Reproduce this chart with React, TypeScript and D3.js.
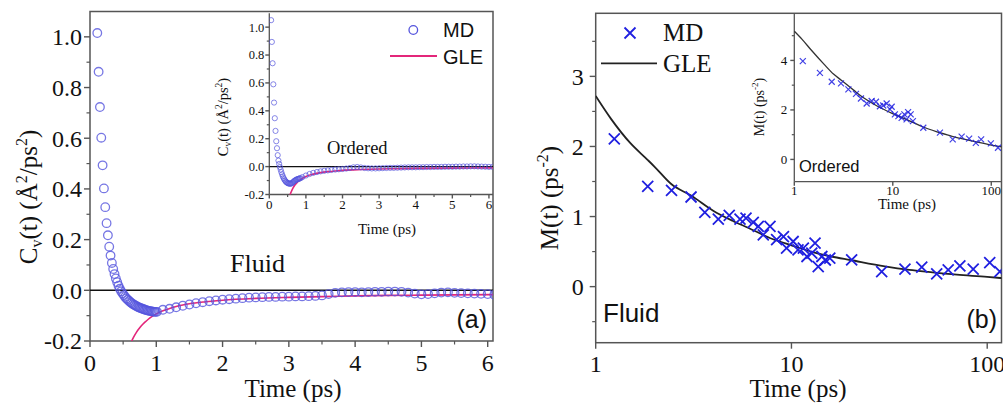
import React from 'react';
import * as d3 from 'd3';

const W = 1003;
const H = 405;
const SERIF = "'Liberation Serif','Times New Roman',serif";
const SANS = "'Liberation Sans',Arial,sans-serif";

// ---------- Panel (a) main: velocity autocorrelation, fluid ----------
const aMdTime = [
  0.11, 0.13, 0.15, 0.17, 0.19, 0.21, 0.23, 0.25, 0.27, 0.29, 0.31, 0.33, 0.35, 0.37, 0.39, 0.41,
  0.43, 0.45, 0.47, 0.49, 0.51, 0.53, 0.55, 0.57, 0.59, 0.61, 0.63, 0.65, 0.67, 0.69, 0.71, 0.73,
  0.75, 0.77, 0.79, 0.81, 0.83, 0.85, 0.87, 0.89, 0.91, 0.93, 0.95, 0.97, 0.99, 1.01,
  1.1, 1.2, 1.3, 1.4, 1.5, 1.6, 1.7, 1.8, 1.9, 2.0, 2.1, 2.2, 2.3, 2.4, 2.5, 2.6, 2.7, 2.8, 2.9,
  3.0, 3.1, 3.2, 3.3, 3.4, 3.5, 3.6, 3.7, 3.8, 3.9, 4.0, 4.1, 4.2, 4.3, 4.4, 4.5, 4.6, 4.7, 4.8,
  4.9, 5.0, 5.1, 5.2, 5.3, 5.4, 5.5, 5.6, 5.7, 5.8, 5.9, 6.0, 6.1,
];
const aMdCv = [
  1.015, 0.862, 0.723, 0.602, 0.493, 0.402, 0.328, 0.265, 0.217, 0.172, 0.137, 0.108, 0.084, 0.064,
  0.047, 0.032, 0.018, 0.006, -0.004, -0.012, -0.019, -0.026, -0.032, -0.037, -0.042, -0.047,
  -0.051, -0.055, -0.058, -0.061, -0.064, -0.067, -0.069, -0.071, -0.073, -0.075, -0.077, -0.078,
  -0.08, -0.081, -0.082, -0.083, -0.084, -0.085, -0.085, -0.085,
  -0.077, -0.073, -0.067, -0.061, -0.056, -0.051, -0.047, -0.043, -0.04, -0.037, -0.035, -0.033,
  -0.031, -0.029, -0.028, -0.027, -0.026, -0.026, -0.025, -0.025, -0.024, -0.024, -0.023, -0.022,
  -0.02, -0.015, -0.01, -0.008, -0.007, -0.007, -0.008, -0.007, -0.006, -0.006, -0.005, -0.005,
  -0.006, -0.009, -0.013, -0.016, -0.015, -0.012, -0.009, -0.008, -0.01, -0.011, -0.012, -0.013,
  -0.014, -0.015, -0.018,
];
const aGleTime = [0.6, 0.63, 0.66, 0.7, 0.75, 0.8, 0.85, 0.9, 0.95, 1.0, 1.1, 1.2, 1.3, 1.4, 1.5, 1.75, 2.0, 2.5, 3.0, 3.5, 4.0, 4.5, 5.0, 5.5, 6.1];
const aGleCv = [-0.22, -0.2, -0.184, -0.166, -0.148, -0.133, -0.121, -0.11, -0.101, -0.093, -0.081, -0.072, -0.064, -0.058, -0.053, -0.045, -0.039, -0.032, -0.028, -0.025, -0.022, -0.02, -0.019, -0.018, -0.017];

// ---------- Panel (a) inset: ordered ----------
const aInMdTime = [
  0.05, 0.07, 0.09, 0.11, 0.13, 0.15, 0.17, 0.19, 0.21, 0.23, 0.25, 0.27, 0.29, 0.31, 0.33, 0.35,
  0.37, 0.39, 0.41, 0.43, 0.45, 0.47, 0.49, 0.51, 0.53, 0.55, 0.57, 0.59, 0.61, 0.63, 0.65, 0.67,
  0.69, 0.71, 0.73, 0.75, 0.77, 0.79, 0.81, 0.83, 0.85,
  0.9, 1.0, 1.1, 1.2, 1.3, 1.4, 1.5, 1.6, 1.7, 1.8, 1.9, 2.0, 2.1, 2.2, 2.3, 2.4, 2.5, 2.6, 2.7,
  2.8, 2.9, 3.0, 3.1, 3.2, 3.3, 3.4, 3.5, 3.6, 3.7, 3.8, 3.9, 4.0, 4.1, 4.2, 4.3, 4.4, 4.5, 4.6,
  4.7, 4.8, 4.9, 5.0, 5.1, 5.2, 5.3, 5.4, 5.5, 5.6, 5.7, 5.8, 5.9, 6.0, 6.1,
];
const aInMdCv = [
  1.05, 0.894, 0.741, 0.59, 0.459, 0.347, 0.256, 0.182, 0.132, 0.082, 0.043, 0.019, -0.003, -0.022,
  -0.04, -0.056, -0.07, -0.082, -0.092, -0.1, -0.107, -0.112, -0.116, -0.119, -0.121, -0.122,
  -0.122, -0.122, -0.12, -0.116, -0.111, -0.106, -0.102, -0.098, -0.095, -0.092, -0.09, -0.088,
  -0.086, -0.085, -0.083,
  -0.076, -0.064, -0.053, -0.045, -0.039, -0.034, -0.03, -0.027, -0.024, -0.021, -0.019, -0.017,
  -0.014, -0.01, -0.005, -0.003, -0.006, -0.01, -0.012, -0.013, -0.013, -0.012, -0.011, -0.01,
  -0.009, -0.009, -0.008, -0.007, -0.006, -0.005, -0.005, -0.005, -0.004, -0.004, -0.003, -0.003,
  -0.002, -0.002, -0.002, -0.001, -0.001, -0.001, 0.0, 0.0, 0.001, 0.001, 0.002, 0.002, 0.001,
  0.0, -0.001, -0.002, -0.002,
];
const aInGleTime = [0.55, 0.57, 0.6, 0.65, 0.7, 0.75, 0.8, 0.9, 1.0, 1.2, 1.4, 1.6, 1.8, 2.0, 2.5, 3.0, 3.5, 4.0, 5.0, 6.1];
const aInGleCv = [-0.22, -0.2, -0.18, -0.152, -0.132, -0.117, -0.104, -0.085, -0.071, -0.054, -0.043, -0.036, -0.031, -0.027, -0.021, -0.017, -0.015, -0.013, -0.011, -0.009];

// ---------- Panel (b) main: memory kernel, fluid ----------
const bMdTime = [
  1.245, 1.844, 2.44, 3.07, 3.61, 4.23, 4.81, 5.46, 5.86, 6.38, 6.77, 7.18, 7.77, 8.4, 9.1, 9.44,
  10.2, 10.8, 11.5, 12.0, 12.7, 13.2, 13.7, 14.3, 14.9, 15.7, 20.3, 28.9, 38.0, 46.3, 55.2, 63.2,
  72.5, 84.8, 103, 116,
];
const bMdM = [
  2.109, 1.431, 1.373, 1.279, 1.059, 0.964, 1.016, 0.964, 0.978, 0.916, 0.86, 0.74, 0.86, 0.67,
  0.715, 0.55, 0.644, 0.525, 0.55, 0.43, 0.478, 0.62, 0.286, 0.43, 0.38, 0.406, 0.382, 0.215,
  0.249, 0.278, 0.182, 0.239, 0.296, 0.249, 0.343, 0.215,
];
const bGleTime = [1, 1.2, 1.5, 1.84, 2, 2.44, 3.07, 4, 5, 6, 8, 10, 13, 16, 20, 30, 40, 50, 70, 100, 120];
const bGleM = [2.72, 2.39, 2.05, 1.81, 1.71, 1.46, 1.3, 1.08, 0.94, 0.84, 0.68, 0.59, 0.49, 0.43, 0.38, 0.29, 0.24, 0.21, 0.17, 0.14, 0.12];

// ---------- Panel (b) inset: ordered ----------
const bInMdTime = [
  1.22, 1.82, 2.4, 2.98, 3.54, 4.23, 4.75, 5.43, 6.1, 6.75, 7.4, 8.0, 8.66, 9.36, 9.74, 10.5, 11.4,
  12.3, 13.1, 13.8, 14.3, 15.2, 16.0, 20.4, 30.1, 40.6, 50, 59.6, 69.7, 78.9, 99, 117,
];
const bInMdM = [
  3.97, 3.5, 3.14, 3.07, 2.83, 2.65, 2.46, 2.26, 2.36, 2.33, 2.15, 2.18, 2.26, 2.02, 2.13, 1.82,
  1.75, 1.68, 1.82, 1.62, 1.91, 1.82, 1.55, 1.28, 1.08, 0.81, 0.92, 0.84, 0.67, 0.81, 0.65, 0.47,
];
const bInGleTime = [1, 1.2, 1.5, 2, 2.5, 3, 4, 5, 7, 10, 15, 20, 30, 40, 50, 70, 100, 130];
const bInGleM = [5.18, 4.85, 4.4, 3.85, 3.45, 3.2, 2.8, 2.5, 2.15, 1.85, 1.55, 1.32, 1.08, 0.93, 0.84, 0.71, 0.58, 0.5];

// ---------- Ticks ----------
const aYTicks = [-0.2, 0, 0.2, 0.4, 0.6, 0.8, 1.0];
const aYMinor = [-0.1, 0.1, 0.3, 0.5, 0.7, 0.9];
const aXTicks = [0, 1, 2, 3, 4, 5, 6];
const aXMinor = [0.5, 1.5, 2.5, 3.5, 4.5, 5.5];
const bYTicks = [0, 1, 2, 3];
const bYMinor = [-0.5, 0.5, 1.5, 2.5, 3.5];
const bXTicks = [1, 10, 100];
const bInYTicks = [0, 2, 4];
const bInYMinor = [1, 3, 5];

const zip = (a: number[], b: number[]) => a.map((v, i) => [v, b[i]] as [number, number]);

const AXIS = '#555';

type Sc = (v: number) => number;

function YAxis({ x, y, ticks, minor, fmt, fs, major = 6, minorLen = 3.5, gap = 8, family = SERIF }: any) {
  return (
    <g>
      {ticks.map((t: number) => (
        <g key={'M' + t}>
          <line x1={x - major} x2={x} y1={y(t)} y2={y(t)} stroke={AXIS} strokeWidth={1.4} />
          <text x={x - gap} y={y(t)} dy="0.35em" textAnchor="end" fontFamily={family} fontSize={fs} fill="#111">
            {fmt(t)}
          </text>
        </g>
      ))}
      {minor.map((t: number) => (
        <line key={'m' + t} x1={x - minorLen} x2={x} y1={y(t)} y2={y(t)} stroke={AXIS} strokeWidth={1.2} />
      ))}
    </g>
  );
}

function XAxis({ y, x, ticks, minor, fmt, fs, major = 6, minorLen = 3.5, labelY, family = SERIF }: any) {
  return (
    <g>
      {ticks.map((t: number) => (
        <g key={'M' + t}>
          <line x1={x(t)} x2={x(t)} y1={y} y2={y + major} stroke={AXIS} strokeWidth={1.4} />
          <text x={x(t)} y={labelY} textAnchor="middle" fontFamily={family} fontSize={fs} fill="#111">
            {fmt(t)}
          </text>
        </g>
      ))}
      {minor.map((t: number) => (
        <line key={'m' + t} x1={x(t)} x2={x(t)} y1={y} y2={y + minorLen} stroke={AXIS} strokeWidth={1.2} />
      ))}
    </g>
  );
}

export default function App() {
  // Panel (a) main scales
  const ax = d3.scaleLinear().domain([0, 6.08]).range([90, 493]);
  const ay = d3.scaleLinear().domain([-0.2, 1.1]).range([341, 11.5]);
  // Panel (a) inset
  const aix = d3.scaleLinear().domain([0, 6.1]).range([269.3, 492.6]);
  const aiy = d3.scaleLinear().domain([-0.2, 1.1]).range([194.5, 13.2]);
  // Panel (b) main
  const bx = d3.scaleLog().domain([1, 119]).range([595.7, 1002]);
  const by = d3.scaleLinear().domain([-0.8, 3.9]).range([342.7, 13.3]);
  // Panel (b) inset
  const bix = d3.scaleLog().domain([1, 130]).range([794.3, 1002.5]);
  const biy = d3.scaleLinear().domain([-0.9, 5.9]).range([181.7, 13.4]);

  const lineOf = (x: Sc, y: Sc) =>
    d3
      .line<[number, number]>()
      .x((d) => x(d[0]))
      .y((d) => y(d[1]))
      .curve(d3.curveMonotoneX);

  const fmt1 = (v: number) => v.toFixed(1);
  const fmt0 = (v: number) => String(v);

  const aMd = zip(aMdTime, aMdCv);
  const aGle = zip(aGleTime, aGleCv);
  const aInMd = zip(aInMdTime, aInMdCv);
  const aInGle = zip(aInGleTime, aInGleCv);
  const bMd = zip(bMdTime, bMdM);
  const bGle = zip(bGleTime, bGleM);
  const bInMd = zip(bInMdTime, bInMdM);
  const bInGle = zip(bInGleTime, bInGleM);

  const circ = '#5555dd';
  const pink = '#e3267a';
  const blueX = '#2020e0';

  const cross = (s: number) => `M${-s},${-s}L${s},${s}M${-s},${s}L${s},${-s}`;

  const aL = ax(0), aR = ax(6.08), aT = ay(1.1), aB = ay(-0.2);
  const bL = bx(1), bR = 1001.5, bT = by(3.9), bB = by(-0.8);

  return (
    <svg
      width={W}
      height={H}
      viewBox={`0 0 ${W} ${H}`}
      style={{ position: 'fixed', left: 0, top: 0, background: '#fff' }}
    >
      <defs>
        <clipPath id="clipA">
          <rect x={aL} y={aT} width={aR - aL} height={aB - aT} />
        </clipPath>
        <clipPath id="clipAi">
          <rect x={aix(0)} y={aiy(1.1)} width={aR - aix(0)} height={aiy(-0.2) - aiy(1.1)} />
        </clipPath>
        <clipPath id="clipB">
          <rect x={bL} y={bT} width={bR - bL} height={bB - bT} />
        </clipPath>
      </defs>
      <rect width={W} height={H} fill="#fff" />

      {/* ================= Panel (a) ================= */}
      <rect x={aL} y={aT} width={aR - aL} height={aB - aT} fill="none" stroke={AXIS} strokeWidth={1.5} />
      <line x1={aL} x2={aR} y1={ay(0)} y2={ay(0)} stroke="#111" strokeWidth={1.5} />
      <YAxis x={aL} y={ay} ticks={aYTicks} minor={aYMinor} fmt={fmt1} fs={24} gap={8} />
      <XAxis y={aB} x={ax} ticks={aXTicks} minor={aXMinor} fmt={fmt0} fs={24} labelY={371} />
      <text x={293} y={397} textAnchor="middle" fontFamily={SERIF} fontSize={25} fill="#111">
        Time (ps)
      </text>
      <text transform="translate(37,197) rotate(-90)" textAnchor="middle" fontFamily={SERIF} fontSize={25} fill="#111">
        C<tspan fontSize={16} dy={5}>v</tspan>
        <tspan dy={-5}>(t) (Å</tspan>
        <tspan fontSize={16} dy={-10}>2</tspan>
        <tspan dy={10}>/ps</tspan>
        <tspan fontSize={16} dy={-10}>2</tspan>
        <tspan dy={10}>)</tspan>
      </text>

      <g clipPath="url(#clipA)">
        <path d={lineOf(ax, ay)(aGle) || ''} fill="none" stroke={pink} strokeWidth={1.6} />
        {aMd.map((d, i) => (
          <circle key={i} cx={ax(d[0])} cy={ay(d[1])} r={4.3} fill="none" stroke={circ} strokeOpacity={0.8} strokeWidth={1.3} />
        ))}
      </g>

      <text x={230} y={272} fontFamily={SERIF} fontSize={26} fill="#111">Fluid</text>
      <text x={487} y={328} textAnchor="end" fontFamily={SANS} fontSize={25} fill="#111">(a)</text>

      {/* legend (a) */}
      <circle cx={413.3} cy={30} r={4.3} fill="none" stroke={circ} strokeWidth={1.3} />
      <text x={443} y={37.3} fontFamily={SANS} fontSize={20} fill="#111">MD</text>
      <line x1={390} x2={437} y1={56} y2={56} stroke={pink} strokeWidth={1.8} />
      <text x={443} y={64} fontFamily={SANS} fontSize={20} fill="#111">GLE</text>

      {/* inset (a) */}
      <line x1={aix(0)} x2={aix(0)} y1={aiy(1.1)} y2={aiy(-0.2)} stroke={AXIS} strokeWidth={1.3} />
      <line x1={aix(0)} x2={aR} y1={aiy(-0.2)} y2={aiy(-0.2)} stroke={AXIS} strokeWidth={1.3} />
      <line x1={aix(0)} x2={aR} y1={aiy(0)} y2={aiy(0)} stroke="#111" strokeWidth={1.2} />
      <YAxis x={aix(0)} y={aiy} ticks={aYTicks} minor={aYMinor} fmt={fmt1} fs={12.5} major={4} minorLen={2.5} gap={5} />
      <XAxis y={aiy(-0.2)} x={aix} ticks={aXTicks} minor={aXMinor} fmt={fmt0} fs={13} major={4} minorLen={2.5} labelY={208.5} />
      <text x={387} y={234} textAnchor="middle" fontFamily={SERIF} fontSize={15} fill="#111">
        Time (ps)
      </text>
      <text transform="translate(228,117) rotate(-90)" textAnchor="middle" fontFamily={SERIF} fontSize={14.5} fill="#111">
        C<tspan fontSize={9.5} dy={3}>v</tspan>
        <tspan dy={-3}>(t) (Å</tspan>
        <tspan fontSize={9.5} dy={-6}>2</tspan>
        <tspan dy={6}>/ps</tspan>
        <tspan fontSize={9.5} dy={-6}>2</tspan>
        <tspan dy={6}>)</tspan>
      </text>
      <g clipPath="url(#clipAi)">
        <path d={lineOf(aix, aiy)(aInGle) || ''} fill="none" stroke={pink} strokeWidth={1.6} />
        {aInMd.map((d, i) => (
          <circle key={i} cx={aix(d[0])} cy={aiy(d[1])} r={2.6} fill="none" stroke={circ} strokeOpacity={0.7} strokeWidth={1} />
        ))}
      </g>
      <text x={327} y={154} fontFamily={SERIF} fontSize={18.5} fill="#111">Ordered</text>

      {/* ================= Panel (b) ================= */}
      <rect x={bL} y={bT} width={bR - bL} height={bB - bT} fill="none" stroke={AXIS} strokeWidth={1.5} />
      <YAxis x={bL} y={by} ticks={bYTicks} minor={bYMinor} fmt={fmt0} fs={24} gap={12} />
      <XAxis y={bB} x={bx} ticks={bXTicks} minor={[]} fmt={fmt0} fs={24} labelY={372} />
      <text x={798} y={397} textAnchor="middle" fontFamily={SERIF} fontSize={25} fill="#111">
        Time (ps)
      </text>
      <text transform="translate(558,198) rotate(-90)" textAnchor="middle" fontFamily={SERIF} fontSize={25} fill="#111">
        M(t) (ps<tspan fontSize={16} dy={-10}>-2</tspan>
        <tspan dy={10}>)</tspan>
      </text>
      <g clipPath="url(#clipB)">
        <path d={lineOf(bx, by)(bGle) || ''} fill="none" stroke="#222" strokeWidth={1.8} />
        {bMd.map((d, i) => (
          <path key={i} transform={`translate(${bx(d[0])},${by(d[1])})`} d={cross(5.5)} stroke={blueX} strokeWidth={1.8} fill="none" />
        ))}
      </g>
      <text x={603} y={322} fontFamily={SANS} fontSize={26} fill="#111">Fluid</text>
      <text x={997} y={328} textAnchor="end" fontFamily={SANS} fontSize={25} fill="#111">(b)</text>

      {/* legend (b) */}
      <path transform="translate(630,33)" d={cross(5.5)} stroke={blueX} strokeWidth={1.8} fill="none" />
      <text x={663} y={40.5} fontFamily={SERIF} fontSize={25} fill="#111">MD</text>
      <line x1={601} x2={657} y1={63.3} y2={63.3} stroke="#222" strokeWidth={1.8} />
      <text x={663} y={71.5} fontFamily={SERIF} fontSize={25} fill="#111">GLE</text>

      {/* inset (b) */}
      <line x1={bix(1)} x2={bix(1)} y1={biy(5.9)} y2={biy(-0.9)} stroke={AXIS} strokeWidth={1.3} />
      <line x1={bix(1)} x2={bR} y1={biy(-0.9)} y2={biy(-0.9)} stroke={AXIS} strokeWidth={1.3} />
      <YAxis x={bix(1)} y={biy} ticks={bInYTicks} minor={bInYMinor} fmt={fmt0} fs={13} major={4} minorLen={2.5} gap={7} />
      <XAxis y={biy(-0.9)} x={bix} ticks={bXTicks} minor={[]} fmt={fmt0} fs={13} major={4} labelY={195} />
      <text x={907} y={209} textAnchor="middle" fontFamily={SERIF} fontSize={15} fill="#111">
        Time (ps)
      </text>
      <text transform="translate(764,107) rotate(-90)" textAnchor="middle" fontFamily={SERIF} fontSize={14} fill="#111">
        M(t) (ps<tspan fontSize={9} dy={-6}>-2</tspan>
        <tspan dy={6}>)</tspan>
      </text>
      <g clipPath="url(#clipB)">
        <path d={lineOf(bix, biy)(bInGle) || ''} fill="none" stroke="#333" strokeWidth={1.3} />
        {bInMd.map((d, i) => (
          <path key={i} transform={`translate(${bix(d[0])},${biy(d[1])})`} d={cross(3)} stroke={blueX} strokeOpacity={0.85} strokeWidth={1.2} fill="none" />
        ))}
      </g>
      <text x={799} y={171.5} fontFamily={SANS} fontSize={16.5} fill="#111">Ordered</text>
    </svg>
  );
}
